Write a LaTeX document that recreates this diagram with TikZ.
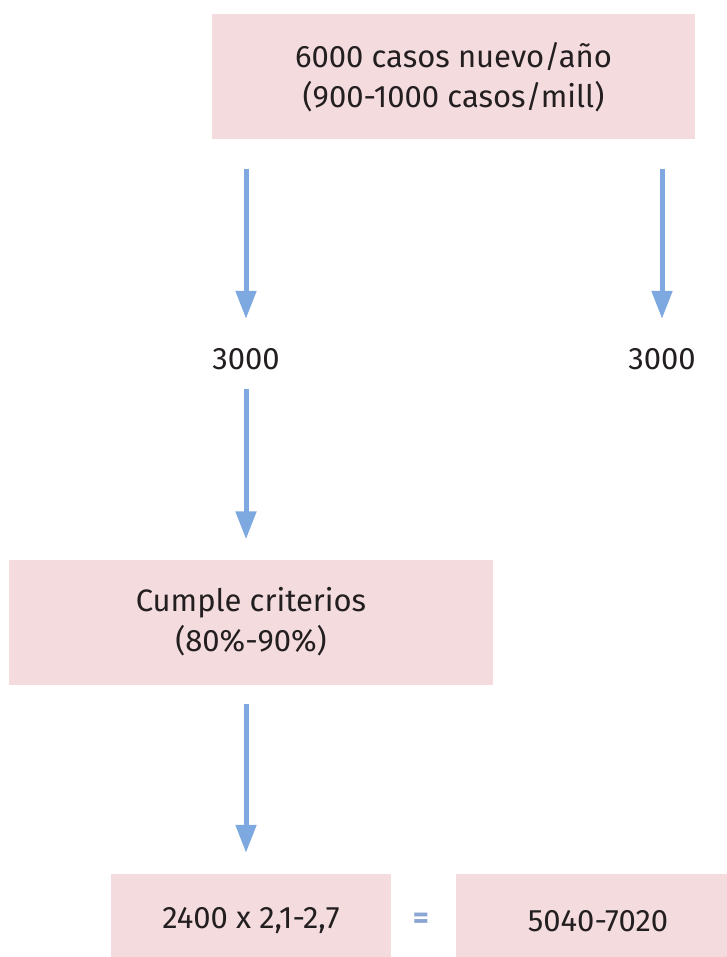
\documentclass[tikz,border=0pt]{standalone}
\usepackage{fontspec}
\setmainfont{Fira Sans}
\usetikzlibrary{arrows.meta}
\definecolor{boxpink}{HTML}{F4DBDE}
\definecolor{arrowblue}{HTML}{7DA8E0}
\definecolor{equalblue}{HTML}{8AA6D2}
\definecolor{inkdark}{HTML}{231F20}
\tikzset{
	pinkbox/.style={fill=boxpink, inner sep=0pt, align=center, text=inkdark,
		font=\fontsize{31}{40}\selectfont},
	countlabel/.style={inner sep=0pt, minimum height=40pt, text=inkdark,
		font=\fontsize{31}{40}\selectfont},
	bluearrow/.style={draw=arrowblue, line width=5pt, -{Triangle[width=20pt,length=28pt]}}
}

\begin{document}
\begin{tikzpicture}[x=1pt,y=-1pt]
			%%%%% START %%%%%
			
			\useasboundingbox (0, 0) rectangle (727, 957);
			
			\node[pinkbox, minimum width=483pt, minimum height=125pt] (nuevos) at (453.5, 77) {6000 casos nuevo/año\\(900-1000 casos/mill)};
			
			\node[countlabel] (mitadA) at (246, 359) {3000};
			\node[countlabel] (mitadB) at (662, 359) {3000};
			
			\node[pinkbox, minimum width=484pt, minimum height=125pt] (criterios) at (251, 622) {Cumple criterios\\(80\%-90\%)};
			
			\node[pinkbox, minimum width=280pt, minimum height=94pt] (producto) at (251, 921) {2400 x 2,1-2,7};
			\node[text=equalblue, font=\fontsize{31}{40}\selectfont\bfseries] (igual) at (421, 921) {=};
			\node[pinkbox, minimum width=284pt, minimum height=94pt] (total) at (598, 921) {5040-7020};
			
			\draw[bluearrow, shorten <=29pt, shorten >=20pt] (nuevos.south -| mitadA.north) -- (mitadA.north);
			\draw[bluearrow, shorten <=29pt, shorten >=20pt] (nuevos.south -| mitadB.north) -- (mitadB.north);
			\draw[bluearrow, shorten <=10pt, shorten >=20pt] (mitadA.south) -- (criterios.north -| mitadA.south);
			\draw[bluearrow, shorten <=19pt, shorten >=21pt] (criterios.south -| mitadA.south) -- (producto.north -| mitadA.south);
			
			%%%%% END %%%%%
\end{tikzpicture}
\end{document}
